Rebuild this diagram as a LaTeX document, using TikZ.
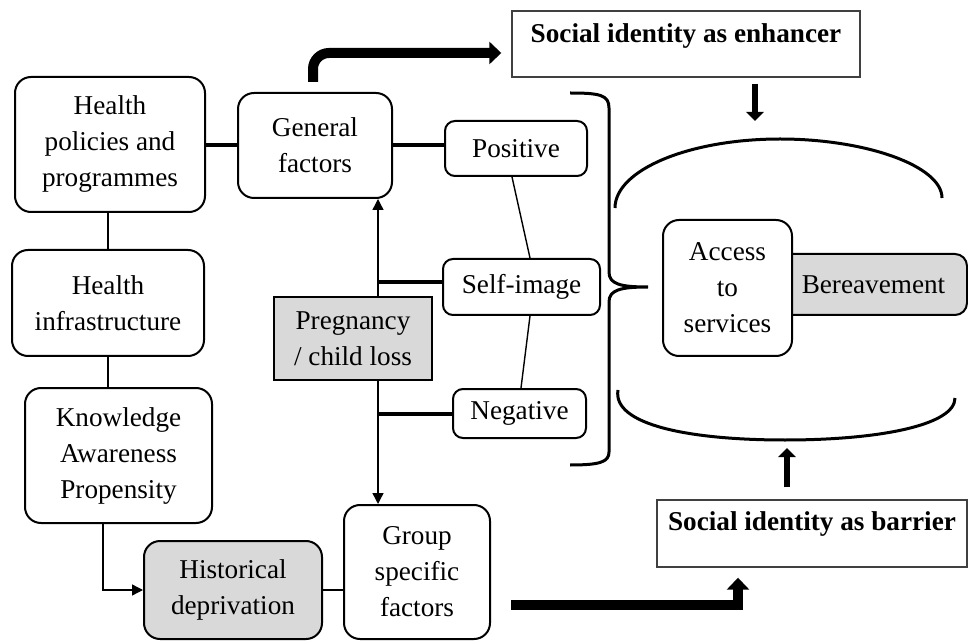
\documentclass[tikz,border=0pt]{standalone}
\usepackage{fontspec}
\setmainfont{Liberation Serif}
\usetikzlibrary{arrows.meta}
\definecolor{boxgray}{RGB}{217,217,217}

\begin{document}
\begin{tikzpicture}[
  x=0.5pt, y=-0.5pt,
  every node/.style={align=center, inner sep=0pt, font=\fontsize{13.6}{18}\selectfont},
  box/.style={draw, fill=white, rounded corners=8pt, line width=1pt},
  smallbox/.style={box, rounded corners=5pt},
  shaded/.style={fill=boxgray},
  idbox/.style={draw=black!75, line width=0.7pt, font=\fontsize{13.6}{18}\selectfont\bfseries},
  link/.style={line width=0.7pt},
  fatlink/.style={line width=2pt},
  edge/.style={-{Triangle[length=5.5pt, width=5.5pt]}, line width=0.7pt},
  bigarrow/.style={-{Triangle[length=6pt, width=11pt]}, line width=5pt},
  midarrow/.style={-{Triangle[length=4.5pt, width=8.5pt]}, line width=3pt},
  curve/.style={line width=1.5pt}
]
\useasboundingbox (0,0) rectangle (968,641);

% ---------- Left column ----------
\node[box, minimum width=95pt, minimum height=67.5pt] (hp) at (110,144.5) {Health\\policies and\\programmes};
\node[box, minimum width=96pt, minimum height=53pt] (hi) at (108,303) {Health\\infrastructure};
\node[box, minimum width=93.5pt, minimum height=67.5pt] (kap) at (118.5,455.5) {Knowledge\\Awareness\\Propensity};
\node[box, shaded, minimum width=89pt, minimum height=49pt] (hd) at (233,590) {Historical\\deprivation};

\draw[link] (hi.north) -- (hi.north |- hp.south);
\draw[link] (hi.south) -- (hi.south |- kap.north);
\draw[edge] ([xshift=-7.75pt]kap.south) |- (hd.west);

% ---------- Middle ----------
\node[box, minimum width=77pt, minimum height=52.5pt] (gf) at (315,145.5) {General\\factors};
\node[draw, shaded, line width=0.7pt, minimum width=79pt, minimum height=41.5pt] (pcl) at (353,338.5) {Pregnancy\\/ child loss};
\node[box, minimum width=73pt, minimum height=67pt] (gsf) at (417,572) {Group\\specific\\factors};
\node[smallbox, minimum width=71pt, minimum height=27.5pt] (pos) at (516,148.5) {Positive};
\node[smallbox, minimum width=78.5pt, minimum height=28pt] (si) at (521.5,287) {Self-image};
\node[smallbox, minimum width=66.5pt, minimum height=24.5pt] (neg) at (519.5,413.5) {Negative};

\coordinate (vx) at (378,0);
\coordinate (sij) at (378,282);

\draw[fatlink] (gf.west) -- (gf.west -| hp.east);
\draw[fatlink] (gf.east) -- (gf.east -| pos.west);
\draw[link] (hd.east) -- (hd.east -| gsf.west);
\draw[edge] (pcl.north -| vx) -- (gf.south -| vx);
\draw[edge] (pcl.south -| vx) -- (gsf.north -| vx);
\draw[fatlink] (sij) -- (sij -| si.west);
\draw[fatlink] (neg.west -| vx) -- (neg.west);
\draw[link] ([xshift=-2pt]pos.south) -- ([xshift=4.25pt]si.north);
\draw[link] ([xshift=4.25pt]si.south) -- ([xshift=0.75pt]neg.north);

% brace
\draw[curve] (570,93) .. controls (600,93) and (609,95) .. (609,108) -- (609,272)
  .. controls (609,284) and (620,287) .. (648,287)
  .. controls (620,287) and (609,290) .. (609,302) -- (609,452)
  .. controls (609,462) and (600,465) .. (570,465);

% ---------- Right side ----------
\node[idbox, text height=16pt, text depth=17pt, minimum width=174pt] (sie) at (686,44) {Social identity as enhancer};
\node[idbox, text height=15pt, text depth=18.5pt, minimum width=155pt] (sib) at (812,533.5) {Social identity as barrier};
\node[box, shaded, rounded corners=6pt, minimum width=93.5pt, minimum height=30.5pt] (ber) at (873.5,284.5) {Bereavement};
\node[box, minimum width=64.5pt, minimum height=68pt] (acc) at (727.5,288) {Access\\to\\services};

% arcs round access
\draw[curve] (615,208) .. controls (615,170) and (689,139) .. (780,139)
  .. controls (866,139) and (942,166) .. (942,198);
\draw[curve] (618,390) .. controls (612,425) and (690,440) .. (785,440)
  .. controls (880,440) and (955,425) .. (955,398);

\coordinate (enh) at (755,121);
\coordinate (bar) at (787,448);

\draw[bigarrow, rounded corners=8pt] ([xshift=-1pt,yshift=5pt]gf.north) |- ([xshift=-5pt,yshift=-4.5pt]sie.west);
\draw[bigarrow] ([xshift=10pt,yshift=-16.5pt]gsf.east) -| ([xshift=-37pt,yshift=-5pt]sib.south);
\draw[midarrow] ([xshift=34.5pt,yshift=-3pt]sie.south) -- (enh);
\draw[midarrow] ([xshift=-12.5pt,yshift=6pt]sib.north) -- (bar);

\end{tikzpicture}
\end{document}
